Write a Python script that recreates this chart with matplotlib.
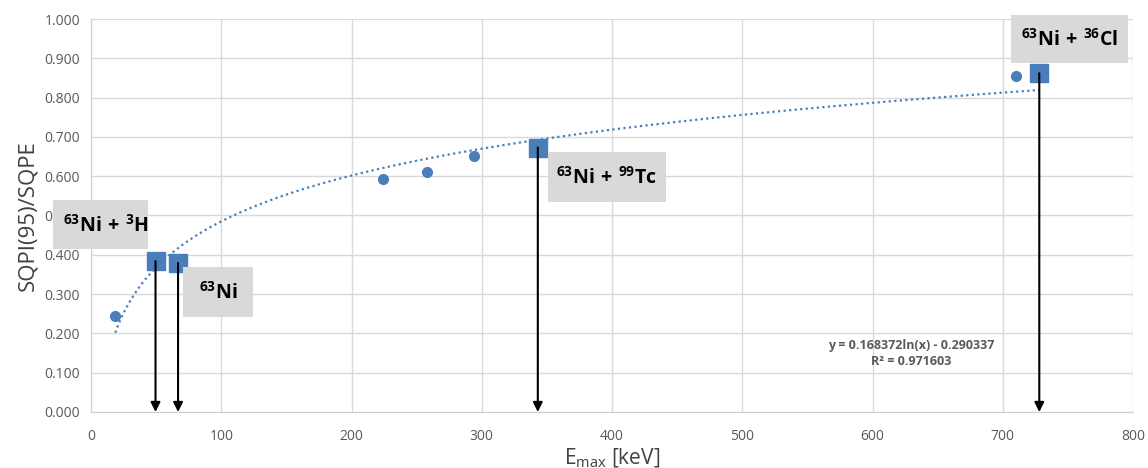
import matplotlib
matplotlib.use("Agg")
import matplotlib.pyplot as plt
from matplotlib.patches import Rectangle
from matplotlib.ticker import FormatStrFormatter, MultipleLocator
import numpy as np

plt.rcParams["font.family"] = ["Open Sans", "DejaVu Sans"]
plt.rcParams["mathtext.fontset"] = "custom"
plt.rcParams["mathtext.rm"] = "Open Sans"
plt.rcParams["mathtext.bf"] = "Open Sans:bold"

# single nuclides / mixtures measured (circles)
circle_x = [18.6, 224, 258, 294, 710]
circle_y = [0.244, 0.593, 0.610, 0.651, 0.855]

# highlighted mixtures (squares)
square_x = [49.5, 66.8, 343, 728]
square_y = [0.384, 0.379, 0.673, 0.862]
square_labels = [
    r"$\mathbf{^{63}Ni\ {+}\ ^{3}H}$",
    r"$\mathbf{^{63}Ni}$",
    r"$\mathbf{^{63}Ni\ {+}\ ^{99}Tc}$",
    r"$\mathbf{^{63}Ni\ {+}\ ^{36}Cl}$",
]
# label box centres and sizes (data units)
box_cx = [7.3, 97.5, 396, 751]
box_cy = [0.477, 0.305, 0.598, 0.949]
box_w = [73, 54, 91, 90]
box_h = [0.124, 0.127, 0.127, 0.122]
text_dx = [4, 0, 0, 0]

# logarithmic trendline y = a ln(x) + b
fit_a = 0.168372
fit_b = -0.290337
fit_r2 = 0.971603
fit_xmin, fit_xmax = 18.6, 728

BLUE = "#4a7ebb"
GRAY = "#595959"

fig = plt.figure(figsize=(11.48, 4.68), dpi=100)
ax = fig.add_axes([0.0793, 0.1197, 0.9077, 0.8397])

xs = np.linspace(fit_xmin, fit_xmax, 400)
ax.plot(xs, fit_a * np.log(xs) + fit_b, linestyle=(0, (1, 1.5)), color=BLUE,
        linewidth=1.6, zorder=3)

ax.plot(circle_x, circle_y, "o", color=BLUE, markersize=7, zorder=4)
ax.plot(square_x, square_y, "s", color=BLUE, markersize=13, zorder=4)

for x, y in zip(square_x, square_y):
    ax.annotate("", xy=(x, 0.0), xytext=(x, y),
                arrowprops=dict(arrowstyle="-|>", color="black", lw=1.5,
                                mutation_scale=14, shrinkA=0, shrinkB=0),
                zorder=5)

for lab, cx, cy, w, h, dx in zip(square_labels, box_cx, box_cy, box_w, box_h, text_dx):
    ax.add_patch(Rectangle((cx - w / 2, cy - h / 2), w, h, facecolor="#d9d9d9",
                           edgecolor="none", clip_on=False, zorder=6))
    ax.text(cx + dx, cy, lab, ha="center", va="center", fontsize=14, color="black",
            zorder=7, clip_on=False)

ax.text(630, 0.149, f"y = {fit_a:.6f}ln(x) - {abs(fit_b):.6f}\nR² = {fit_r2:.6f}",
        ha="center", va="center", fontsize=9, fontweight="bold", color=GRAY,
        linespacing=1.25)

ax.set_xlim(0, 800)
ax.set_ylim(0, 1.0)
ax.xaxis.set_major_locator(MultipleLocator(100))
ax.yaxis.set_major_locator(MultipleLocator(0.1))
ax.yaxis.set_major_formatter(FormatStrFormatter("%.3f"))
ax.grid(True, color="#d9d9d9", linewidth=1)
ax.set_axisbelow(True)
for side in ["top", "right"]:
    ax.spines[side].set_visible(False)
for side in ["left", "bottom"]:
    ax.spines[side].set_color("#d0d0d0")
ax.tick_params(length=0, labelsize=10, colors=GRAY, pad=8)
ax.tick_params(axis="x", pad=12)

ax.set_xlabel(r"E$_{\rm max}$ [keV]", fontsize=15, color="#404040", labelpad=2)
ax.set_ylabel("SQPI(95)/SQPE", fontsize=16, color="#404040", labelpad=4)

fig.savefig("out.png", dpi=100)
